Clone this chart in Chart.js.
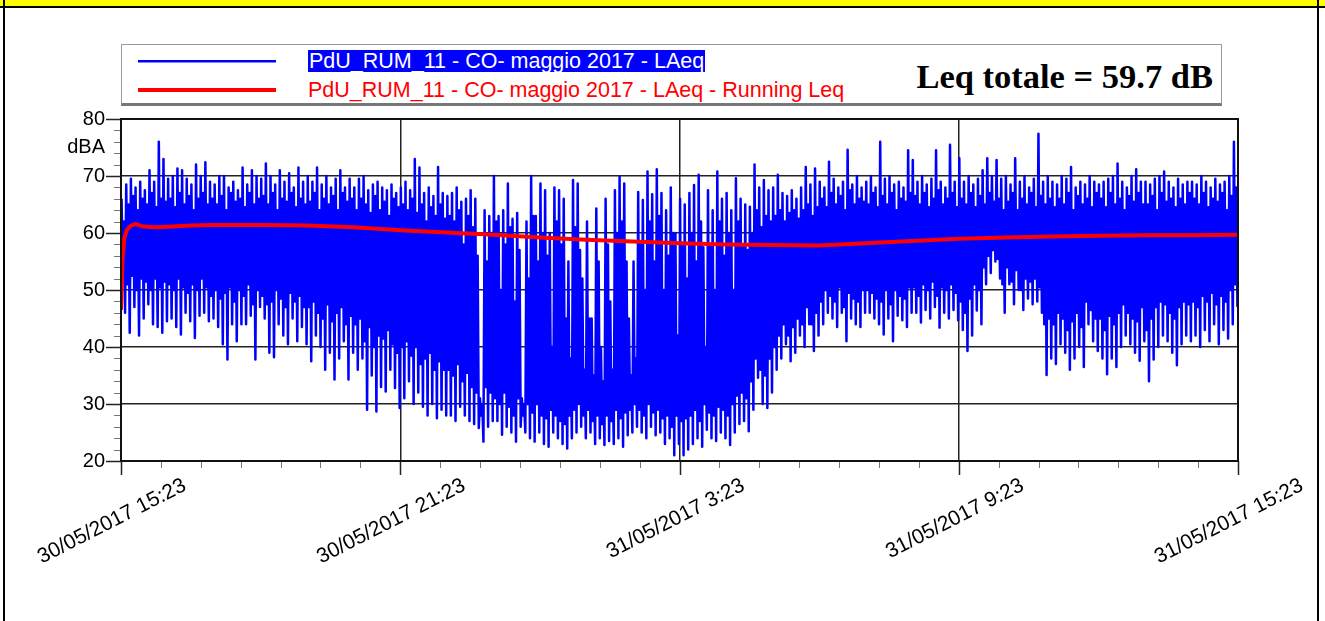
<!DOCTYPE html>
<html>
<head>
<meta charset="utf-8">
<script src="https://cdn.jsdelivr.net/npm/chart.js@4.4.0/dist/chart.umd.min.js"></script>
<style>
    body { margin: 0; background: #fff; font-family: "Liberation Sans", Arial, sans-serif; }
    #page { position: relative; width: 1325px; height: 621px; overflow: hidden; background: #fff; }
    #band { position: absolute; left: 0; top: 0; width: 1325px; height: 6px; background: #ffff00; border-bottom: 2px solid #000; }
    #frame { position: absolute; left: 3px; top: 0; width: 1316px; height: 621px; border-left: 2px solid #000; border-right: 2px solid #000; box-sizing: border-box; }
    #legend { position: absolute; left: 121px; top: 44px; width: 1101px; height: 62px; border: 1px solid #999; border-bottom: 3px solid #777; box-sizing: border-box; background: #fff; }
    .sample { position: absolute; left: 16px; width: 138px; }
    .entry { position: absolute; left: 186px; font-size: 21.5px; line-height: 22px; white-space: nowrap; }
    #leq { position: absolute; right: 8px; top: 13px; font-family: "Liberation Serif", "Times New Roman", serif; font-weight: bold; font-size: 34.5px; line-height: 37px; }
    #chartBox { position: absolute; left: 0; top: 0; width: 1325px; height: 621px; }
</style>
</head>
<body>
<div id="page">
    <div id="chartBox"><canvas id="noiseChart" width="1325" height="621"></canvas></div>
    <div id="band"></div>
    <div id="frame"></div>
    <div id="legend">
        <div class="sample" style="top:15px;height:2px;background:#0000ff;box-shadow:0 1px 0 #8080ff;"></div>
        <div class="entry" style="top:5px;background:#0000ff;color:#fff;padding:0 1px;">PdU_RUM_11 - CO- maggio 2017 - LAeq</div>
        <div class="sample" style="top:43px;height:4px;background:#ff0000;"></div>
        <div class="entry" style="top:34px;color:#ff0000;">PdU_RUM_11 - CO- maggio 2017 - LAeq - Running Leq</div>
        <div id="leq">Leq totale = 59.7 dB</div>
    </div>
</div>
<script>
(function() {
    'use strict';

    // Time axis: hours since 30/05/2017 15:23
    const labelHours = [0, 6, 12, 18, 24];
    const timeLabels = ['30/05/2017 15:23', '30/05/2017 21:23', '31/05/2017 3:23', '31/05/2017 9:23', '31/05/2017 15:23'];

    // LAeq per 6-minute slot (one row per hour): highest spike
    const peakLevels = [
        66, 68.5, 69.5, 68, 69, 67.5, 71, 69, 76, 73,
        69.5, 70, 71.3, 71, 69.5, 68.5, 72, 70, 72.4, 69,
        68.5, 70, 70, 68, 69, 67.5, 71.5, 68.5, 71, 70,
        69.5, 72.2, 70, 68.5, 71, 69, 70.5, 68, 71.5, 69,
        70, 69, 71.5, 68.5, 70, 68, 69.5, 71, 68, 69.5,
        68, 69.5, 70, 67.5, 68.5, 69, 68, 67.5, 68.5, 67,
        68, 69, 67.5, 73, 71.5, 67, 68, 66.5, 71.6, 67,
        66.5, 67, 68, 65.5, 66, 67.5, 66, 31, 64, 63,
        70, 63, 64, 68.7, 62.5, 63.5, 31, 62, 70, 63,
        68.7, 67.5, 60, 68, 67.5, 66, 55, 69.3, 68.7, 52,
        62, 45, 64.3, 40, 66, 48, 67.5, 69.9, 68.7, 45,
        55, 67.2, 65.8, 70.8, 66.8, 71.2, 67, 64, 68, 60,
        66, 65, 67, 68.4, 70.2, 57.5, 67.5, 64, 70.8, 66,
        67, 64, 69.6, 66, 65, 64.6, 72, 68, 69.3, 67.5,
        68, 70.2, 67, 66.5, 67.5, 66, 68, 71.6, 68.5, 71.3,
        69, 68, 72.5, 69.5, 68, 69, 74.6, 68.5, 70, 68,
        69, 70, 68, 76, 69.5, 70, 68.5, 69, 68, 74.5,
        72.8, 69, 70, 68.5, 69.5, 74.5, 69, 68, 75.5, 69,
        73.1, 69, 70, 68.5, 69.5, 71, 73.1, 70, 72.8, 69.5,
        70, 68.5, 73.1, 69, 70, 68, 69.5, 77.4, 69, 70,
        69, 68.5, 70, 69.5, 71.6, 68, 69, 68.5, 70, 69,
        68.5, 69, 69.5, 70, 72.2, 69, 68, 70, 71.2, 69,
        69, 68.5, 69.5, 70, 70.8, 69, 68, 69.5, 68.5, 69,
        69, 68.5, 70, 69, 68, 69.5, 68.5, 69, 70, 76
    ];
    // top of the dense band
    const innerPeaks = [
        62, 65, 66.5, 64, 66, 65, 67, 64.5, 66, 65.5,
        66, 64.5, 67, 65, 66.5, 64, 66, 67, 65, 66,
        65, 66.5, 64, 67, 65.5, 66, 64.5, 67, 65, 66,
        66.5, 65, 67, 64, 66, 65.5, 67, 64.5, 66, 65,
        65.5, 67, 64, 66, 65, 66.5, 64, 67, 65.5, 66,
        64, 66, 65, 63.5, 66.5, 64, 65.5, 63, 66, 64.5,
        65, 64, 66, 63.5, 65, 62, 64.5, 63, 65, 62.5,
        63, 62, 64, 58, 63, 61, 56, 30, 55, 60,
        62, 50, 58, 61, 48, 57, 30, 52, 63, 55,
        60, 56, 40, 62, 58, 45, 38, 61, 57, 36,
        45, 35, 55, 34, 58, 36, 60, 62, 55, 35,
        38, 58, 50, 62, 55, 63, 50, 56, 60, 42,
        58, 52, 60, 55, 62, 40, 58, 50, 62, 56,
        60, 50, 62, 58, 57, 60, 64, 61, 63, 62,
        63, 64, 62, 63.5, 64, 62.5, 64, 65, 63, 64.5,
        66, 64.5, 67, 65, 66.5, 64, 67.5, 65, 66, 65.5,
        65, 67, 64.5, 66.5, 65, 67, 64, 66, 65.5, 67,
        66.5, 65, 67, 64.5, 66, 67.5, 65, 66, 67, 64.5,
        66, 65, 67, 64.5, 66.5, 65, 67, 65.5, 66, 64,
        65.5, 67, 64, 66, 65, 67, 64.5, 66.5, 65, 66,
        64.5, 66, 65, 67, 64, 66.5, 65, 66, 64.5, 67,
        66, 64.5, 67, 65, 66, 64, 66.5, 65.5, 67, 65,
        65, 66.5, 64, 67, 65.5, 66, 64.5, 66, 65, 67,
        66, 65, 67, 64.5, 66, 65.5, 67, 64, 66.5, 68
    ];
    // bottom of the dense band
    const innerDips = [
        53, 51, 52.5, 50, 52, 51.5, 50, 52, 50.5, 51.5,
        51, 50, 52, 50.5, 49.5, 51, 50, 52, 50.5, 49,
        50, 48.5, 49.5, 50.5, 48, 50, 49, 51, 47.5, 50,
        49, 47.5, 48, 50, 48.5, 47, 49.5, 48, 49, 47,
        47, 48, 46, 45, 47.5, 44.5, 46, 47, 44, 45.5,
        44, 45, 41, 43.5, 40, 42, 41.5, 43, 40.5, 39,
        40, 41, 38.5, 40, 37, 38, 39, 36, 37.5, 36,
        36, 35, 37, 34, 35.5, 33, 32, 28, 33, 32,
        31, 30, 32, 29.5, 28, 31, 28, 30, 28.5, 30,
        28, 27.5, 29, 28, 27, 26.5, 28, 29, 30, 28,
        29, 27, 28, 26.5, 28, 27, 29, 27.5, 28.5, 29,
        30, 29, 28, 30, 28.5, 29, 27.5, 28, 26, 28,
        27, 27.5, 28, 29, 27, 30, 28.5, 28, 29.5, 29,
        28, 30, 31.5, 32, 31, 34, 38, 36, 35, 38,
        40, 42, 44, 42, 43.5, 45, 44, 47, 44, 46,
        48, 50, 49, 48, 50.5, 47, 49.5, 48.5, 48, 50,
        50, 49.5, 48.5, 48, 50, 47.5, 50, 49, 48.5, 50.5,
        50.5, 49, 51, 50, 51.5, 49, 50.5, 50, 51, 49.5,
        48, 46, 48.5, 51, 50, 54, 56, 57, 55.5, 51,
        54, 51.5, 53.5, 50, 52, 51.5, 52, 50.5, 44, 45,
        44, 46, 45, 43, 44.5, 46, 43.5, 48, 46.5, 45,
        45, 43, 45.5, 44, 46, 47.5, 46, 45, 44.5, 47,
        43, 45, 47, 48, 47.5, 46, 45, 47, 48, 47.5,
        48, 47, 49, 48, 49.5, 47.5, 49, 48, 50, 51
    ];
    // lowest dip
    const dipLevels = [
        46, 42.5, 47, 42, 45, 47.5, 44, 43.5, 42.5, 44.5,
        45, 43.5, 42.2, 46, 44.5, 41.6, 45.5, 46, 44.5, 45,
        43.5, 40.5, 37.8, 44, 41, 44, 44, 45.5, 37.8, 47,
        45, 39, 38.2, 44, 42, 40.5, 45, 41, 43.5, 40.5,
        37.5, 42, 40, 36, 39, 34.3, 38, 41, 34.3, 39,
        36, 38, 29, 35, 28.7, 33, 32.2, 36, 32.8, 29.3,
        31, 34, 30, 32, 29.5, 28, 30, 27.5, 29, 28,
        28, 27, 29.5, 28, 27, 26.5, 25.8, 23.4, 26, 27,
        27, 24.6, 26, 25, 23.4, 26, 25, 24, 23.4, 25,
        23, 22.5, 25, 24, 23, 22.2, 24, 25, 26, 24,
        25, 23, 24, 22.8, 23.5, 23, 24, 22.5, 24.5, 25,
        26, 25, 24, 26, 24.5, 25, 23, 24, 21, 23,
        21, 22, 23, 24, 22.5, 25.5, 24, 23.5, 25, 24,
        22.8, 25, 26.5, 27, 25.2, 29, 34.6, 30, 29.3, 32,
        36, 38, 40.5, 37.5, 39, 42, 40, 44, 39.3, 42,
        44, 46, 45, 43.5, 46, 41, 45, 44, 43.5, 46,
        46, 45, 44, 42.2, 45, 41, 45.5, 44.7, 43.5, 46,
        46, 44.3, 46.5, 45, 47, 43.4, 46, 45, 46.5, 44.7,
        43, 39.3, 42, 46.4, 44, 51, 53, 55, 52, 46,
        51, 47.5, 50, 46.5, 48.5, 47.5, 48, 46, 35.1, 38,
        37, 40.5, 39, 36, 38, 40, 36.5, 44, 41, 39.3,
        38, 35.2, 38, 36.5, 40, 42, 40.5, 39, 37.6, 41,
        34, 37.8, 40, 42, 41, 39, 36.8, 40.5, 42, 41,
        42, 40, 43, 41, 44, 40.5, 43, 41.5, 44, 47
    ];

    // Running Leq
    const runHours = [0, 0.03, 0.07, 0.12, 0.2, 0.3, 0.45, 0.7, 1, 1.5, 2, 3, 4, 5, 6, 7, 8, 9, 10, 11, 12, 13, 14, 15, 16, 17, 18, 19, 20, 21, 22, 23, 24];
    const runLeq = [46.5, 55, 59, 60.5, 61.2, 61.6, 61.2, 61.0, 61.1, 61.3, 61.4, 61.4, 61.3, 61.0, 60.5, 60.1, 59.7, 59.2, 58.8, 58.5, 58.2, 58.0, 57.9, 57.8, 58.2, 58.6, 59.0, 59.2, 59.4, 59.5, 59.6, 59.6, 59.7];

    // each slot: spike, band bottom, band top, dip
    const slot = 0.1;
    const trace = [];
    peakLevels.forEach((v, i) => {
        const t = i * slot;
        trace.push({ x: t + slot * 0.125, y: v });
        trace.push({ x: t + slot * 0.375, y: innerDips[i] });
        trace.push({ x: t + slot * 0.625, y: innerPeaks[i] });
        trace.push({ x: t + slot * 0.875, y: dipLevels[i] });
    });
    const pairs = (xs, ys) => xs.map((x, i) => ({ x: x, y: ys[i] }));

    // Tick marks, date labels and plot frame
    const axisDecor = {
        id: 'axisDecor',
        afterDraw(chart) {
            const { ctx, chartArea: a, scales: { x, y } } = chart;
            ctx.save();
            for (let k = 0; k <= 28; k++) {
                const px = Math.round(x.getPixelForValue(k * 6 / 7)) + 0.5;
                const major = k % 7 === 0;
                ctx.strokeStyle = major ? '#222' : '#777';
                ctx.lineWidth = major ? 1.5 : 1;
                ctx.beginPath();
                ctx.moveTo(px, a.bottom);
                ctx.lineTo(px, a.bottom + (major ? 14 : 7));
                ctx.stroke();
            }
            for (let v = 20; v <= 80; v += 2) {
                const py = Math.round(y.getPixelForValue(v)) + 0.5;
                const major = v % 10 === 0;
                ctx.strokeStyle = major ? '#222' : '#777';
                ctx.lineWidth = major ? 1.5 : 1;
                ctx.beginPath();
                ctx.moveTo(a.left, py);
                ctx.lineTo(a.left - (major ? 15 : 7), py);
                ctx.stroke();
            }
            ctx.strokeStyle = '#111';
            ctx.lineWidth = 2;
            ctx.strokeRect(a.left, a.top, a.right - a.left, a.bottom - a.top);

            ctx.fillStyle = '#000';
            ctx.font = '21px "Liberation Sans", Arial, sans-serif';
            ctx.textAlign = 'right';
            ctx.textBaseline = 'top';
            labelHours.forEach((h, i) => {
                ctx.save();
                ctx.translate(x.getPixelForValue(h) + 59, a.bottom + 14);
                ctx.rotate(-27 * Math.PI / 180);
                ctx.fillText(timeLabels[i], 0, 0);
                ctx.restore();
            });
            ctx.restore();
        }
    };

    new Chart(document.getElementById('noiseChart'), {
        type: 'line',
        data: {
            datasets: [
                {
                    data: pairs(runHours, runLeq),
                    borderColor: '#ff0000',
                    borderWidth: 4,
                    pointRadius: 0,
                    fill: false
                },
                {
                    data: trace,
                    borderColor: '#0000ff',
                    borderWidth: 2.5,
                    borderJoinStyle: 'round',
                    pointRadius: 0,
                    fill: false
                }
            ]
        },
        options: {
            responsive: false,
            devicePixelRatio: 1,
            animation: false,
            layout: { padding: { top: 119, right: 87, bottom: 0, left: 0 } },
            plugins: { legend: { display: false }, tooltip: { enabled: false } },
            scales: {
                x: {
                    type: 'linear',
                    min: 0,
                    max: 24,
                    afterFit: function(scale) { scale.height = 160; },
                    ticks: { stepSize: 6, display: false },
                    grid: { color: '#222', lineWidth: 1.5, drawTicks: false },
                    border: { color: '#111', width: 2 }
                },
                y: {
                    min: 20,
                    max: 80,
                    afterFit: function(scale) { scale.width = 121; },
                    ticks: {
                        stepSize: 5,
                        autoSkip: false,
                        padding: 16,
                        color: '#000',
                        font: { family: '"Liberation Sans", Arial, sans-serif', size: 20 },
                        callback: function(value) {
                            if (value % 10 === 0) return value;
                            return value === 75 ? 'dBA' : '';
                        }
                    },
                    grid: {
                        drawTicks: false,
                        lineWidth: 1.5,
                        color: function(c) { return c.tick && c.tick.value % 10 === 0 ? '#222' : 'rgba(0,0,0,0)'; }
                    },
                    border: { color: '#111', width: 2 }
                }
            }
        },
        plugins: [axisDecor]
    });
})();
</script>
</body>
</html>
